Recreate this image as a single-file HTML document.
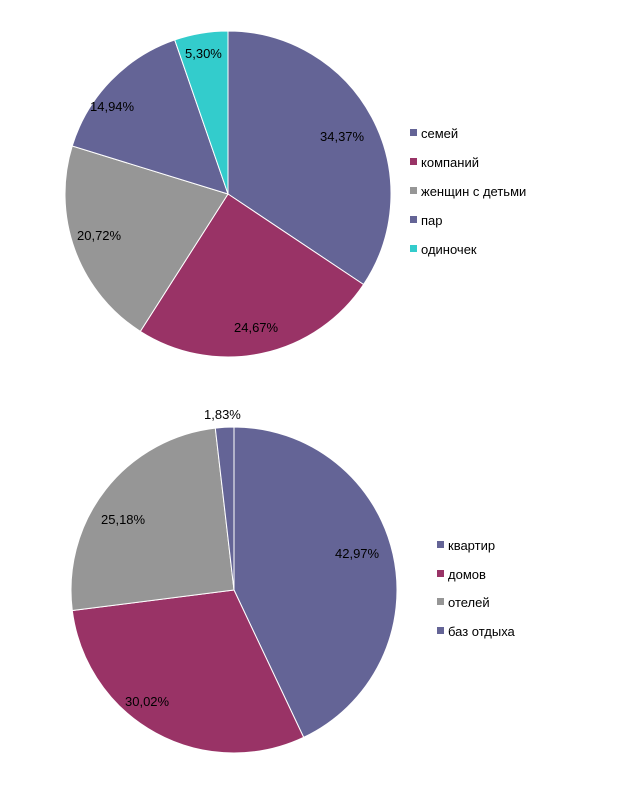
<!DOCTYPE html>
<html><head><meta charset="utf-8"><style>
body{margin:0;background:#fff;}
svg{display:block}
text{font-family:"Liberation Sans",sans-serif;font-size:13px;fill:#000}
</style></head><body>
<svg id="s" width="621" height="799" xmlns="http://www.w3.org/2000/svg"></svg>
<script>
const s=document.getElementById('s');
function pie(cx,cy,r,vals,cols){
 let a=0,h='';
 vals.forEach((v,i)=>{
  const a1=a+v/100*2*Math.PI;
  const x0=cx+r*Math.sin(a),y0=cy-r*Math.cos(a),x1=cx+r*Math.sin(a1),y1=cy-r*Math.cos(a1);
  h+=`<path d="M${cx},${cy}L${x0},${y0}A${r},${r} 0 ${a1-a>Math.PI?1:0} 1 ${x1},${y1}Z" fill="${cols[i]}" stroke="#fff" stroke-width="1"/>`;
  a=a1;
 });
 return h;
}
const P='#646496',M='#993366',G='#969696',T='#33CCCC';
let h=pie(228,194,163,[34.37,24.67,20.72,14.94,5.30],[P,M,G,P,T]);
h+=pie(234,590,163,[42.97,30.02,25.18,1.83],[P,M,G,P]);
const labels=[[320,141,'34,37%'],[234,332,'24,67%'],[77,240,'20,72%'],[90,111,'14,94%'],[185,58,'5,30%'],
[335,558,'42,97%'],[125,706,'30,02%'],[101,524,'25,18%'],[204,419,'1,83%']];
labels.forEach(l=>h+=`<text x="${l[0]}" y="${l[1]}">${l[2]}</text>`);
const leg=[[133,P,'семей'],[162,M,'компаний'],[191,G,'женщин с детьми'],[220,P,'пар'],[249,T,'одиночек'],
[545,P,'квартир'],[574,M,'домов'],[602,G,'отелей'],[631,P,'баз отдыха']];
leg.forEach(l=>{const x=l[0]>500?437:410;h+=`<rect x="${x}" y="${l[0]-4}" width="7" height="7" fill="${l[1]}"/><text x="${x+11}" y="${l[0]+5}">${l[2]}</text>`;});
s.innerHTML=h;
</script>
</body></html>
